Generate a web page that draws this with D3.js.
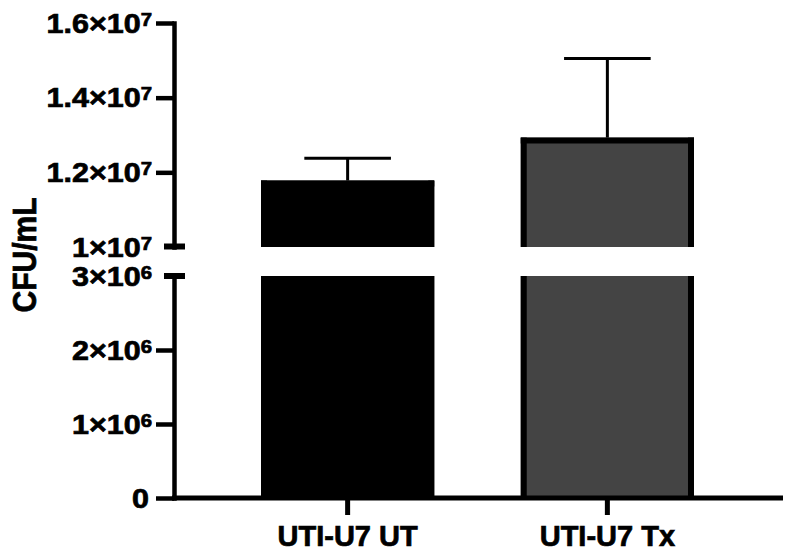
<!DOCTYPE html>
<html>
<head>
<meta charset="utf-8">
<script src="https://cdn.jsdelivr.net/npm/d3@7"></script>
<style>
  html, body { margin: 0; padding: 0; background: #fff; }
  svg { display: block; }
  text { font-family: "Liberation Sans", Arial, Helvetica, sans-serif; font-weight: bold; fill: #000; stroke: #000; stroke-width: 0.7px; }
</style>
</head>
<body>
<svg id="chart" width="794" height="554"></svg>
<script>
// ---- data ----
const categories = ["UTI-U7 UT", "UTI-U7 Tx"];
const means = [1.178e7, 1.293e7];
const sems = [6.0e5, 2.12e6];
const fills = ["#000000", "#444444"];
const upperDomain = [1e7, 1.6e7];
const lowerDomain = [0, 3e6];
const upperTicks = [1e7, 1.2e7, 1.4e7, 1.6e7];
const lowerTicks = [0, 1e6, 2e6, 3e6];
const yLabel = "CFU/mL";

// ---- layout ----
const svg = d3.select("#chart");
const axisX = 174;
const yUpper = d3.scaleLinear().domain(upperDomain).range([247, 23]);
const yLower = d3.scaleLinear().domain(lowerDomain).range([498, 276]);
const x = d3.scaleBand().domain(categories).range([axisX, 781])
  .paddingInner(0.333).paddingOuter(0.335);

const segments = [
  { scale: yUpper, dom: upperDomain },
  { scale: yLower, dom: lowerDomain }
];

const data = categories.map((c, i) => ({ cat: c, mean: means[i], sem: sems[i], fill: fills[i] }));
const border = 6;

// ---- bars (split across the two segments) ----
segments.forEach(seg => {
  const g = svg.append("g");
  data.forEach(d => {
    if (d.mean <= seg.dom[0]) return;
    const topVal = Math.min(d.mean, seg.dom[1]);
    const yTop = seg.scale(topVal);
    const yBot = seg.scale(seg.dom[0]);
    const x0 = x(d.cat), x1 = x0 + x.bandwidth();
    g.append("rect")
      .attr("x", x0).attr("y", yTop)
      .attr("width", x1 - x0).attr("height", yBot - yTop)
      .attr("fill", d.fill);
    [x0 + border / 2, x1 - border / 2].forEach(xx => {
      g.append("line").attr("x1", xx).attr("x2", xx)
        .attr("y1", yTop).attr("y2", yBot)
        .attr("stroke", "#000").attr("stroke-width", border);
    });
    if (d.mean <= seg.dom[1]) {
      g.append("line").attr("x1", x0).attr("x2", x1)
        .attr("y1", yTop + border / 2).attr("y2", yTop + border / 2)
        .attr("stroke", "#000").attr("stroke-width", border);
    }
  });
});

// ---- error bars (upper only) ----
data.forEach(d => {
  const seg = d.mean + d.sem > upperDomain[0] ? yUpper : yLower;
  const cx = x(d.cat) + x.bandwidth() / 2;
  const capHalf = x.bandwidth() / 4;
  const yTop = seg(d.mean + d.sem);
  const yBase = seg(d.mean);
  svg.append("line").attr("x1", cx).attr("x2", cx)
    .attr("y1", yTop).attr("y2", yBase)
    .attr("stroke", "#000").attr("stroke-width", 3);
  svg.append("line").attr("x1", cx - capHalf).attr("x2", cx + capHalf)
    .attr("y1", yTop).attr("y2", yTop)
    .attr("stroke", "#000").attr("stroke-width", 3);
});

// ---- y axes ----
function drawYAxis(scale, ticks, skipTick) {
  const g = svg.append("g").attr("transform", `translate(${axisX},0)`)
    .call(d3.axisLeft(scale)
      .tickValues(ticks.filter(t => t !== skipTick))
      .tickSize(18).tickSizeOuter(0).tickFormat(""));
  g.select(".domain").attr("stroke", "#000").attr("stroke-width", 4.5)
    .attr("stroke-linecap", "square");
  g.selectAll(".tick line").attr("stroke", "#000").attr("stroke-width", 4.5);
  const lg = svg.append("g");
  ticks.forEach(t => {
    const tx = t === 0 ? 149 : 152;
    const txt = lg.append("text")
      .attr("transform", `translate(${tx},${scale(t) + 9.7}) scale(1.13,1)`)
      .attr("text-anchor", "end")
      .attr("font-size", 27);
    if (t === 0) {
      txt.text("0");
    } else {
      const e = Math.floor(Math.log10(t));
      const m = t / Math.pow(10, e);
      txt.append("tspan").text(d3.format("~g")(+m.toFixed(3)) + "×10");
      txt.append("tspan").attr("font-size", 18).attr("dy", -7).text(e);
    }
  });
}
drawYAxis(yUpper, upperTicks, upperDomain[0]);
drawYAxis(yLower, lowerTicks, lowerDomain[1]);

// break caps
[yUpper(upperDomain[0]) - 0.5, yLower(lowerDomain[1])].forEach(yy => {
  svg.append("line").attr("x1", axisX - 10).attr("x2", axisX + 11)
    .attr("y1", yy).attr("y2", yy)
    .attr("stroke", "#000").attr("stroke-width", 6);
});

// ---- x axis ----
const xg = svg.append("g").attr("transform", `translate(0,${yLower(0)})`)
  .call(d3.axisBottom(x).tickSize(17).tickSizeOuter(0).tickFormat(""));
xg.select(".domain").remove();
xg.selectAll(".tick line").attr("stroke", "#000").attr("stroke-width", 5);
svg.append("line").attr("x1", axisX - 2).attr("x2", 783)
  .attr("y1", yLower(0)).attr("y2", yLower(0))
  .attr("stroke", "#000").attr("stroke-width", 5);

svg.append("g").selectAll("text").data(categories).join("text")
  .attr("x", d => x(d) + x.bandwidth() / 2)
  .attr("y", 546)
  .attr("text-anchor", "middle")
  .attr("font-size", 29)
  .text(d => d);

// ---- y label ----
svg.append("text")
  .attr("transform", "translate(36,255) rotate(-90) scale(1,1.1)")
  .attr("text-anchor", "middle")
  .attr("font-size", 30)
  .text(yLabel);
</script>
</body>
</html>
